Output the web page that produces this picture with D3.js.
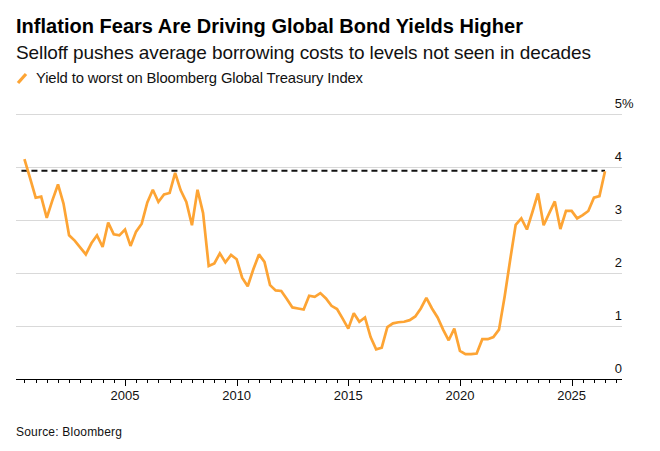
<!DOCTYPE html>
<html><head><meta charset="utf-8">
<script src="https://cdn.jsdelivr.net/npm/d3@7"></script>
<style>body{margin:0;background:#fff}svg{display:block}</style>
</head><body>
<svg id="c" width="660" height="451"></svg>
<script>
// ---- data ----
const title = "Inflation Fears Are Driving Global Bond Yields Higher";
const subtitle = "Selloff pushes average borrowing costs to levels not seen in decades";
const legendLabel = "Yield to worst on Bloomberg Global Treasury Index";
const sourceLabel = "Source: Bloomberg";
const firstQuarter = "2000-07-01"; // quarterly observations
const yields = [
  4.16,3.80,3.43,3.45,3.05,3.38,3.68,3.32,2.72,2.62,
  2.49,2.36,2.57,2.72,2.50,2.96,2.74,2.72,2.83,2.52,
  2.79,2.94,3.34,3.58,3.35,3.49,3.52,3.90,3.57,3.35,
  2.91,3.58,3.14,2.14,2.19,2.38,2.21,2.35,2.27,1.92,
  1.76,2.08,2.36,2.22,1.78,1.68,1.67,1.52,1.36,1.34,
  1.32,1.58,1.56,1.63,1.53,1.39,1.33,1.15,0.96,1.25,
  1.09,1.17,0.80,0.57,0.60,0.99,1.06,1.08,1.09,1.12,
  1.19,1.34,1.54,1.34,1.17,0.94,0.74,0.96,0.54,0.48,
  0.48,0.49,0.76,0.76,0.80,0.94,1.56,2.25,2.92,3.04,
  2.83,3.16,3.51,2.91,3.14,3.36,2.84,3.18,3.18,3.04,
  3.10,3.18,3.43,3.46,3.93
];
const dashedLevel = 3.94;
const yTicks = [0,1,2,3,4,5];
const xLabelYears = [2005,2010,2015,2020,2025];
const xDomain = ["2000-02-14","2027-04-05"];

// ---- chart ----
const svg = d3.select("#c");
const font = "'Liberation Sans', Arial, Helvetica, sans-serif";
const orange = "#fda434";
const parse = d3.utcParse("%Y-%m-%d");
const start = parse(firstQuarter);
const dates = yields.map((_, i) => d3.utcMonth.offset(start, 3 * i));
const data = yields.map((v, i) => ({date: dates[i], value: v}));

const x = d3.scaleUtc().domain(xDomain.map(parse)).range([16, 622]);
const y = d3.scaleLinear().domain([0, 5]).range([379.5, 114.5]);

function fit(sel, target) {
  const n = sel.text().length;
  const w = sel.node().getComputedTextLength();
  sel.attr("letter-spacing", ((target - w) / (n - 1)).toFixed(3));
}

// titles
const t = svg.append("text").attr("x", 16).attr("y", 32.5).text(title)
  .attr("font-family", font).attr("font-weight", "bold").attr("font-size", 20).attr("fill", "#000");
fit(t, 507);
const st = svg.append("text").attr("x", 16).attr("y", 58.5).text(subtitle)
  .attr("font-family", font).attr("font-size", 19).attr("fill", "#111");
fit(st, 575);

// legend
svg.append("line").attr("x1", 18).attr("y1", 83).attr("x2", 26).attr("y2", 74)
  .attr("stroke", orange).attr("stroke-width", 3.2);
const lg = svg.append("text").attr("x", 36).attr("y", 82.7).text(legendLabel)
  .attr("font-family", font).attr("font-size", 14.8).attr("fill", "#111");
fit(lg, 327);

// gridlines
svg.append("g").selectAll("line").data(yTicks.filter(d => d > 0)).join("line")
  .attr("x1", 16).attr("x2", 622).attr("y1", d => y(d)).attr("y2", d => y(d))
  .attr("stroke", "#d9d9d9").attr("stroke-width", 1);

// y labels
const yl = svg.append("g").attr("font-family", font).attr("font-size", 13).attr("fill", "#111");
yl.selectAll("text").data(yTicks).join("text")
  .attr("x", 622).attr("y", d => y(d) - 7).attr("text-anchor", "end").text(d => d);
yl.append("text").attr("x", 622).attr("y", y(5) - 7).text("%");

// x axis
const ax = svg.append("g");
ax.append("line").attr("x1", 16).attr("x2", 622).attr("y1", y(0)).attr("y2", y(0))
  .attr("stroke", "#000").attr("stroke-width", 1);
const ticks = d3.utcMonth.every(6).range(x.domain()[0], x.domain()[1]);
ax.selectAll("line.tick").data(ticks).join("line").attr("class", "tick")
  .attr("x1", d => Math.round(x(d)) + 0.5).attr("x2", d => Math.round(x(d)) + 0.5)
  .attr("y1", y(0))
  .attr("y2", d => y(0) + ((d.getUTCMonth() === 0 && xLabelYears.includes(d.getUTCFullYear())) ? 6.5 : 3.5))
  .attr("stroke", "#000").attr("stroke-width", 1);
ax.selectAll("text").data(xLabelYears).join("text")
  .attr("x", d => x(new Date(Date.UTC(d, 0, 1)))).attr("y", 399.5)
  .attr("text-anchor", "middle").attr("font-family", font).attr("font-size", 13).attr("fill", "#111")
  .text(d => d);

// dashed reference line
svg.append("line")
  .attr("x1", x(dates[0]) - 3).attr("x2", x(dates[dates.length - 1]))
  .attr("y1", y(dashedLevel)).attr("y2", y(dashedLevel))
  .attr("stroke", "#111").attr("stroke-width", 2).attr("stroke-dasharray", "6,4");

// line
svg.append("path").datum(data)
  .attr("d", d3.line().x(d => x(d.date)).y(d => y(d.value)))
  .attr("fill", "none").attr("stroke", orange).attr("stroke-width", 2.7)
  .attr("stroke-linejoin", "miter").attr("stroke-miterlimit", 2);

// source
const src = svg.append("text").attr("x", 16).attr("y", 435.5).text(sourceLabel)
  .attr("font-family", font).attr("font-size", 12).attr("fill", "#111");
fit(src, 106);
</script>
</body></html>
